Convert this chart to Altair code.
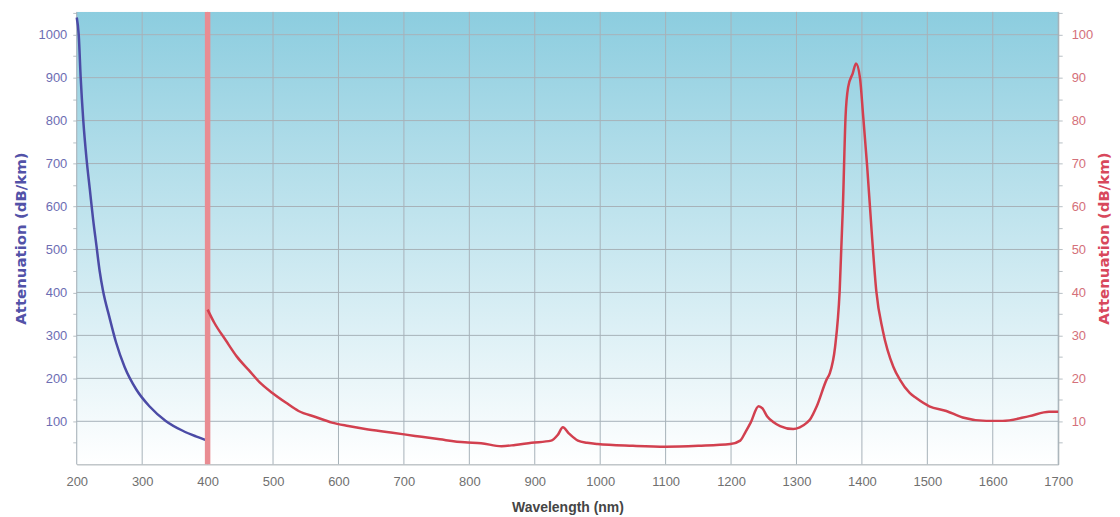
import altair as alt
import pandas as pd

# ---- data ----
blue_nm = [200, 203, 206, 210, 215, 220, 225, 230, 235, 240, 250, 260, 273, 291, 311, 336, 362, 382, 400]
blue_att = [1040, 1000, 900, 800, 710, 640, 570, 510, 450, 405, 342, 284, 227, 174, 135, 101, 78, 65, 55]

red_nm = [400, 410, 428, 445, 463, 480, 499, 520, 539, 565,
          590, 615, 641, 680, 717, 755, 793, 818, 849, 870,
          895, 925, 935, 943, 952, 966, 980, 996, 1050, 1100,
          1150, 1199, 1214, 1222, 1230, 1242, 1248, 1255, 1265, 1275,
          1295, 1305, 1316, 1321, 1331, 1346, 1351, 1359, 1366, 1371,
          1375, 1379, 1386, 1391, 1397, 1402, 1408, 1415, 1422, 1432,
          1448, 1458, 1473, 1483, 1503, 1529, 1554, 1590, 1615, 1656,
          1686, 1700]
red_att = [36, 33, 28.8, 25, 21.9, 19, 16.6, 14.3, 12.4, 11,
           9.7, 8.9, 8.2, 7.4, 6.6, 5.8, 5.1, 4.9, 4.2, 4.5,
           5, 5.5, 6.8, 8.6, 7.2, 5.5, 5, 4.7, 4.3, 4.1,
           4.3, 4.7, 5.5, 7.5, 9.7, 13.5, 13, 11.2, 9.8, 8.9,
           8.2, 8.6, 9.7, 10.5, 13.5, 19.7, 21.2, 27.3, 40.3, 60.2,
           80.9, 87.8, 91, 93.3, 90, 80.9, 69.4, 54, 40.3, 31.1,
           22.7, 19.7, 16.6, 15.4, 13.5, 12.4, 10.9, 10.1, 10.1, 11.2,
           12.2, 12.2]

divider_nm = [400]
x_ticks = list(range(200, 1701, 100))
left_ticks = list(range(100, 1001, 100))
left_minor = list(range(50, 1051, 50))
right_ticks = list(range(10, 101, 10))
right_minor = list(range(5, 106, 5))
x_domain = [200, 1700]
left_domain = [0, 1053]
right_domain = [0, 105.3]

# ---- layout / style ----
W, H = 985, 454
FONT = "Liberation Sans"
YTFONT = "DejaVu Sans"
GRID = "#a7b2b9"
AXC = "#9aa3a8"

xscale = alt.Scale(domain=x_domain, nice=False, zero=False)
lscale = alt.Scale(domain=left_domain, nice=False)
rscale = alt.Scale(domain=right_domain, nice=False)

x_axis = alt.Axis(values=x_ticks, title="Wavelength (nm)", grid=False, format="d",
                  ticks=False, labelPadding=11, labelFontSize=13,
                  labelColor="#707070", labelFont=FONT,
                  titleFont=FONT, titleFontSize=14, titleFontWeight="bold",
                  titleColor="#454545", titlePadding=12,
                  domainColor=AXC, labelFlush=False)
left_axis = alt.Axis(orient="left", values=left_minor, title="Attenuation (dB/km)",
                     labelExpr="datum.value % 100 == 0 && datum.value <= 1000 ? format(datum.value, 'd') : ''",
                     grid=False, ticks=True, tickSize=4, tickColor="#b8c0c5",
                     labelPadding=6, labelFontSize=13,
                     labelColor="#6d6db3", labelFont=FONT,
                     titleFont=YTFONT, titleFontSize=15, titleFontWeight="bold",
                     titleColor="#5252a8", titlePadding=10,
                     domainColor=AXC)
right_axis = alt.Axis(orient="right", values=right_minor, title="Attenuation (dB/km)",
                      labelExpr="datum.value % 10 == 0 && datum.value <= 100 ? format(datum.value, 'd') : ''",
                      grid=False, ticks=True, tickSize=4, tickColor="#b8c0c5",
                      labelPadding=9, labelFontSize=13,
                      labelColor="#d4707a", labelFont=FONT,
                      titleFont=YTFONT, titleFontSize=15, titleFontWeight="bold",
                      titleColor="#d8485c", titlePadding=19, titleAngle=270,
                      domainColor=AXC)

bg = alt.Chart(alt.Data(values=[{}])).mark_rect(
    fill=alt.Gradient(
        gradient="linear",
        stops=[alt.GradientStop(color="#8ccddf", offset=0),
               alt.GradientStop(color="#ffffff", offset=1)],
        x1=0, x2=0, y1=0, y2=1),
).encode(x=alt.value(0), x2=alt.value(W), y=alt.value(0), y2=alt.value(H))

xgrid = alt.Chart(pd.DataFrame({"nm": x_ticks})).mark_rule(
    color=GRID, strokeWidth=1
).encode(x=alt.X("nm:Q", scale=xscale, axis=x_axis))

ygrid = alt.Chart(pd.DataFrame({"att": left_ticks})).mark_rule(
    color=GRID, strokeWidth=1
).encode(y=alt.Y("att:Q", scale=lscale, axis=left_axis))

blue = alt.Chart(pd.DataFrame({"nm": blue_nm, "att": blue_att})).mark_line(
    color="#4b4ba6", strokeWidth=2.5, interpolate="monotone"
).encode(
    x=alt.X("nm:Q", scale=xscale, axis=x_axis),
    y=alt.Y("att:Q", scale=lscale, axis=left_axis),
)

left = alt.layer(bg, xgrid, ygrid, blue)

band = alt.Chart(pd.DataFrame({"nm": divider_nm})).mark_rule(
    color="#e98c92", strokeWidth=5.5
).encode(x=alt.X("nm:Q", scale=xscale, axis=x_axis))

red = alt.Chart(pd.DataFrame({"nm": red_nm, "att": red_att})).mark_line(
    color="#d2404f", strokeWidth=2.5, interpolate="monotone"
).encode(
    x=alt.X("nm:Q", scale=xscale, axis=x_axis),
    y=alt.Y("att:Q", scale=rscale, axis=right_axis),
)

right = alt.layer(band, red)

chart = alt.layer(left, right).resolve_scale(y="independent").properties(
    width=W, height=H, padding={"left": 5, "top": 0, "right": 0, "bottom": 0}
).configure_view(stroke=AXC, strokeWidth=1).configure(background="white")

chart.save("out.html", embed_options={"renderer": "svg", "actions": False})
